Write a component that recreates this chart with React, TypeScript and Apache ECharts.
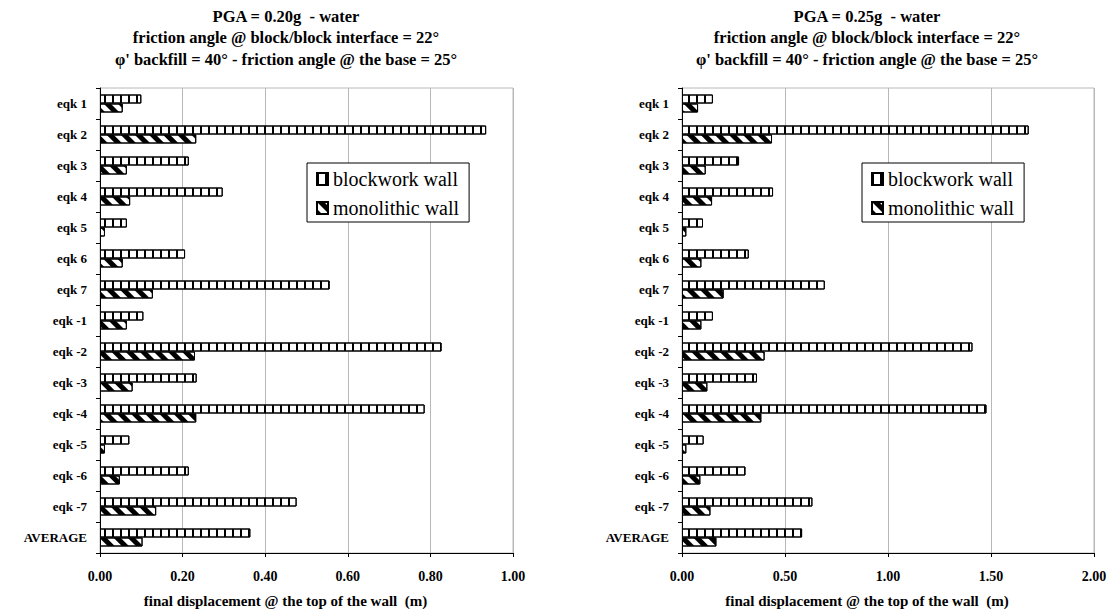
import React, { useEffect, useRef } from "react";
import * as echarts from "echarts";

const categories = ["eqk 1","eqk 2","eqk 3","eqk 4","eqk 5","eqk 6","eqk 7","eqk -1","eqk -2","eqk -3","eqk -4","eqk -5","eqk -6","eqk -7","AVERAGE"];
const leftBlockwork = [0.10,0.935,0.215,0.297,0.065,0.206,0.556,0.105,0.827,0.234,0.786,0.071,0.215,0.476,0.364];
const leftMonolithic = [0.055,0.233,0.065,0.073,0.012,0.055,0.128,0.065,0.230,0.079,0.233,0.012,0.048,0.136,0.103];
const rightBlockwork = [0.150,1.683,0.277,0.442,0.102,0.324,0.693,0.150,1.41,0.364,1.478,0.105,0.308,0.633,0.583];
const rightMonolithic = [0.078,0.437,0.115,0.146,0.021,0.094,0.202,0.094,0.401,0.123,0.385,0.021,0.089,0.138,0.167];
const leftTicks = { min: 0, max: 1, interval: 0.2 };
const rightTicks = { min: 0, max: 2, interval: 0.5 };
const leftTitle = ["PGA = 0.20g  - water","friction angle @ block/block interface = 22°","φ' backfill = 40° - friction angle @ the base = 25°"];
const rightTitle = ["PGA = 0.25g  - water","friction angle @ block/block interface = 22°","φ' backfill = 40° - friction angle @ the base = 25°"];
const axisName = "final displacement @ the top of the wall  (m)";
const seriesNames = ["blockwork wall","monolithic wall"];

const SERIF = "'Liberation Serif', 'Times New Roman', serif";

export default function App() {
  const ref = useRef<HTMLDivElement>(null);
  useEffect(() => {
    if (!ref.current) return;
    const chart = echarts.init(ref.current, null, { renderer: "svg" });
    const vDecal = { symbol: "rect", symbolSize: 1, dashArrayX: [2, 5.5], dashArrayY: [4, 0], rotation: 0, color: "#000" };
    const dDecal = { symbol: "rect", symbolSize: 1, dashArrayX: [5, 5], dashArrayY: [4, 0], rotation: -Math.PI / 4, color: "#000" };
    const grids = [
      { left: 100, top: 88, width: 413, height: 465 },
      { left: 682, top: 88, width: 412, height: 465 },
    ];
    const mkX = (i: number, t: any, fmt: (v: number) => string) => ({
      type: "value", gridIndex: i, min: t.min, max: t.max, interval: t.interval,
      axisLine: { show: true, lineStyle: { color: "#000", width: 1 } },
      axisTick: { show: true, length: 4, lineStyle: { color: "#000" } },
      splitLine: { show: true, lineStyle: { color: "#b8b8b8", width: 1 } },
      axisLabel: { formatter: fmt, fontFamily: SERIF, fontWeight: "bold", fontSize: 14, color: "#000", margin: 16 },
      name: axisName, nameLocation: "middle", nameGap: 40,
      nameTextStyle: { fontFamily: SERIF, fontWeight: "bold", fontSize: 15, color: "#000", padding: [0, 42, 0, 0] },
    });
    const mkY = (i: number) => ({
      type: "category", gridIndex: i, data: categories, inverse: true,
      axisLine: { show: true, lineStyle: { color: "#000", width: 1 } },
      axisTick: { show: true, length: 4, lineStyle: { color: "#000" } },
      axisLabel: { fontFamily: SERIF, fontWeight: "bold", fontSize: 13, color: "#000", margin: 13 },
      splitLine: { show: false },
    });
    const mkSeries = (name: string, data: number[], i: number, decal: any) => ({
      name, type: "bar", xAxisIndex: i, yAxisIndex: i, data,
      barWidth: 9, barGap: "0%",
      itemStyle: { color: "#fff", borderColor: "#000", borderWidth: 1, decal },
    });
    const titleTexts: any[] = [];
    [[leftTitle, 286], [rightTitle, 867]].forEach(([lines, cx]: any) => {
      lines.forEach((t: string, k: number) => {
        titleTexts.push({
          type: "text", x: cx, y: 16 + k * 21.5,
          style: { text: t, fill: "#000", font: `bold 16.5px ${SERIF}`, textAlign: "center", textVerticalAlign: "middle" },
        });
      });
    });
    const mkLegend = (left: number) => ({
      orient: "vertical", left, top: 163, data: seriesNames,
      backgroundColor: "#fff", borderColor: "#000", borderWidth: 1,
      padding: [6, 10, 4, 9], itemWidth: 11, itemHeight: 12, itemGap: 9, icon: "rect",
      textStyle: { fontFamily: SERIF, fontSize: 20, color: "#000" },
      selectedMode: false,
    });
    chart.setOption({
      animation: false,
      backgroundColor: "#fff",
      grid: grids.map(g => ({ ...g, show: true, borderColor: "#b8b8b8", borderWidth: 1, backgroundColor: "transparent" })),
      xAxis: [mkX(0, leftTicks, (v: number) => v.toFixed(2)), mkX(1, rightTicks, (v: number) => v.toFixed(2))],
      yAxis: [mkY(0), mkY(1)],
      legend: [mkLegend(307), mkLegend(862)],
      series: [
        mkSeries(seriesNames[0], leftBlockwork, 0, vDecal),
        mkSeries(seriesNames[1], leftMonolithic, 0, dDecal),
        mkSeries(seriesNames[0], rightBlockwork, 1, vDecal),
        mkSeries(seriesNames[1], rightMonolithic, 1, dDecal),
      ],
      graphic: titleTexts,
    });
    return () => chart.dispose();
  }, []);
  return <div ref={ref} style={{ width: 1113, height: 613, position: "absolute", left: 0, top: 0 }} />;
}
